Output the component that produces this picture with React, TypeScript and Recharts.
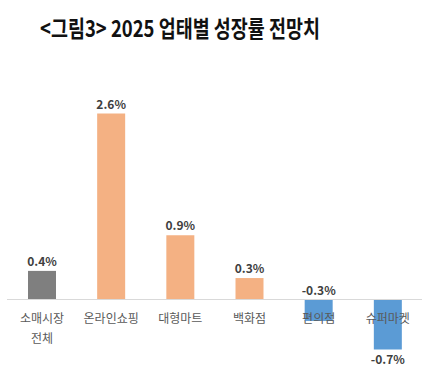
import React from "react";
import { BarChart, Bar, XAxis, YAxis, ReferenceLine, Cell, LabelList } from "recharts";

const TITLE = "<그림3> 2025 업태별 성장률 전망치";
const categories = ["소매시장\n전체", "온라인쇼핑", "대형마트", "백화점", "편의점", "슈퍼마켓"];
const growth = [0.4, 2.6, 0.9, 0.3, -0.3, -0.7];
const barColors = ["#7F7F7F", "#F4B183", "#F4B183", "#F4B183", "#5B9BD5", "#5B9BD5"];
const yDomain = [-1, 3];

const data = categories.map((c, i) => ({ name: c, value: growth[i] }));

const FONT = "'Noto Sans CJK KR', 'Noto Sans', sans-serif";

function getBox(props: any) {
  const vb = props.viewBox || {};
  const x = props.x ?? vb.x;
  const y = props.y ?? vb.y;
  const width = props.width ?? vb.width;
  const height = props.height ?? vb.height;
  return { x: Number(x), y: Number(y), width: Number(width), height: Number(height) };
}

const ValueLabel = (props: any) => {
  const { x, y, width, height } = getBox(props);
  const v = Number(props.value);
  const top = Math.min(y, y + height);
  const bottom = Math.max(y, y + height);
  const cx = x + width / 2;
  const ty = v >= 0 || Math.abs(v) < 0.5 ? top - 5 : bottom + 14.5;
  return (
    <text x={cx} y={ty} textAnchor="middle" fontFamily={FONT} fontSize={12} fontWeight={700} fill="#404040">
      {`${v.toFixed(1)}%`}
    </text>
  );
};

const CategoryLabel = (props: any) => {
  const { x, y, width, height } = getBox(props);
  const v = Number(props.value);
  const baseline = v >= 0 ? Math.max(y, y + height) : Math.min(y, y + height);
  const cx = x + width / 2;
  const idx = props.index ?? 0;
  const lines = String(categories[idx]).split("\n");
  return (
    <text x={cx} y={baseline + 23.5} textAnchor="middle" fontFamily={FONT} fontSize={12} fill="#595959">
      {lines.map((l, i) => (
        <tspan key={i} x={cx} dy={i === 0 ? 0 : 20}>
          {l}
        </tspan>
      ))}
    </text>
  );
};

export default function App() {
  return (
    <div style={{ position: "absolute", left: 0, top: 0, width: 427, height: 382, background: "#fff" }}>
      <BarChart
        width={427}
        height={382}
        data={data}
        margin={{ top: 85, right: 5, bottom: 11, left: 7 }}
        barSize={28}
      >
        <XAxis dataKey="name" hide />
        <YAxis hide domain={yDomain} type="number" />
        <ReferenceLine y={0} stroke="#D9D9D9" strokeWidth={1} />
        <Bar dataKey="value" isAnimationActive={false}>
          {data.map((d, i) => (
            <Cell key={i} fill={barColors[i]} />
          ))}
          <LabelList dataKey="value" content={ValueLabel} />
          <LabelList dataKey="value" content={CategoryLabel} />
        </Bar>
      </BarChart>
      <svg width={427} height={60} style={{ position: "absolute", left: 0, top: 0, pointerEvents: "none" }}>
        <text
          x={180}
          y={36.5}
          textAnchor="middle"
          fontFamily={FONT}
          fontSize={23}
          fontWeight={700}
          fill="#111"
          textLength={280}
          lengthAdjust="spacingAndGlyphs"
        >
          {TITLE}
        </text>
      </svg>
    </div>
  );
}
